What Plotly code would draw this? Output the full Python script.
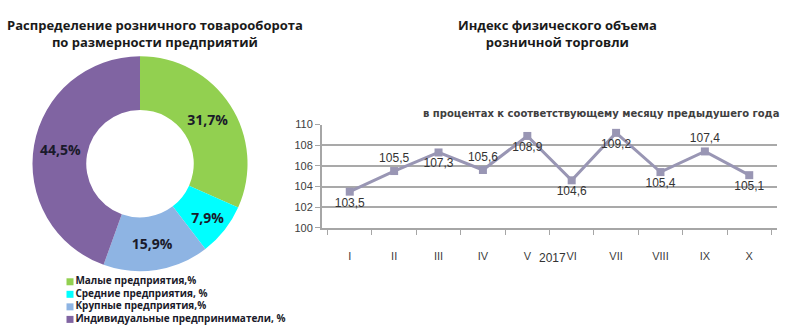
import plotly.graph_objects as go

# Pie data
pie_labels = ["Малые предприятия,%", "Средние предприятия, %", "Крупные предприятия,%", "Индивидуальные предприниматели, %"]
pie_values = [31.7, 7.9, 15.9, 44.5]
pie_text = ["31,7%", "7,9%", "15,9%", "44,5%"]
pie_colors = ["#92D050", "#00FFFF", "#8EB4E3", "#8064A2"]

# Line data
months = ["I", "II", "III", "IV", "V", "VI", "VII", "VIII", "IX", "X"]
index_values = [103.5, 105.5, 107.3, 105.6, 108.9, 104.6, 109.2, 105.4, 107.4, 105.1]
index_text = ["103,5", "105,5", "107,3", "105,6", "108,9", "104,6", "109,2", "105,4", "107,4", "105,1"]
label_pos = ["bottom center", "top center", "bottom center", "top center", "bottom center",
             "bottom center", "bottom center", "bottom center", "top center", "bottom center"]
y_ticks = [100, 102, 104, 106, 108, 110]

W, H = 800, 336
def px(x):
    return x / W
def py(y):
    return 1 - y / H

fig = go.Figure()

fig.add_trace(go.Pie(
    labels=pie_labels, values=pie_values, text=pie_text,
    textinfo="text", textposition="inside", insidetextorientation="horizontal",
    marker=dict(colors=pie_colors, line=dict(color="white", width=0)),
    hole=0.5, sort=False, direction="clockwise", rotation=0,
    domain=dict(x=[px(26), px(254)], y=[py(275), py(52)]),
    textfont=dict(family="Open Sans", size=14, color="#1a1a2a", weight="bold"),
    showlegend=False,
))

fig.add_trace(go.Scatter(
    x=months, y=index_values, text=index_text, mode="lines+markers+text",
    textposition=label_pos,
    line=dict(color="#9996B4", width=3),
    marker=dict(symbol="square", size=8, color="#9996B4"),
    textfont=dict(family="Liberation Sans", size=12, color="#333333"),
    xaxis="x", yaxis="y", showlegend=False, cliponaxis=False,
))

# manual compact legend for the pie
legend_rows = list(range(len(pie_labels)))
fig.add_trace(go.Scatter(
    x=[0] * len(pie_labels), y=legend_rows, text=pie_labels, mode="markers+text",
    textposition="middle right",
    marker=dict(symbol="square", size=7, color=pie_colors),
    textfont=dict(family="Open Sans", size=10, color="#1a1a2a", weight="bold"),
    xaxis="x2", yaxis="y2", showlegend=False, cliponaxis=False, hoverinfo="skip",
))

fig.update_layout(
    width=W, height=H, margin=dict(l=0, r=0, t=0, b=0),
    paper_bgcolor="white", plot_bgcolor="white", showlegend=False,
    xaxis=dict(domain=[px(322), px(777)], type="category", showgrid=False,
               showline=True, linecolor="#a6a6a6", linewidth=2,
               ticks="outside", tickson="boundaries", ticklen=5, tickcolor="#a6a6a6",
               tickfont=dict(family="Liberation Sans", size=11, color="#404040"),
               ticklabelstandoff=17, anchor="y", fixedrange=True),
    yaxis=dict(domain=[py(230), py(123)], range=[100, 110], tickvals=y_ticks,
               showgrid=True, gridcolor="#a9a9a9", gridwidth=1.6,
               showline=True, linecolor="#a6a6a6", linewidth=2,
               ticks="outside", ticklen=5, tickcolor="#a6a6a6",
               tickfont=dict(family="Liberation Sans", size=11, color="#404040"),
               anchor="x", zeroline=False, fixedrange=True),
    xaxis2=dict(domain=[px(70), px(90)], range=[0, 1], visible=False, fixedrange=True,
                anchor="y2"),
    yaxis2=dict(domain=[py(331.5), py(279.5)], range=[3.5, -0.5], visible=False, fixedrange=True,
                anchor="x2"),
    annotations=[
        dict(text="<b>Распределение розничного товарооборота<br>по размерности предприятий</b>",
             x=px(155), y=py(28), xref="paper", yref="paper", xanchor="center", yanchor="middle",
             showarrow=False, font=dict(family="Open Sans", size=13, color="#1a1a1a")),
        dict(text="<b>Индекс физического объема<br>розничной торговли</b>",
             x=px(557), y=py(28), xref="paper", yref="paper", xanchor="center", yanchor="middle",
             showarrow=False, font=dict(family="Open Sans", size=13, color="#1a1a1a")),
        dict(text="<b>в процентах к соответствующему месяцу предыдушего года</b>",
             x=px(781), y=py(112), xref="paper", yref="paper", xanchor="right", yanchor="middle",
             showarrow=False, font=dict(family="DejaVu Sans", size=10, color="#404040")),
        dict(text="2017", x=px(552), y=py(261), xref="paper", yref="paper",
             xanchor="center", yanchor="middle", showarrow=False,
             font=dict(family="Liberation Sans", size=12, color="#333333")),
    ],
)

fig.write_html("out.html")
